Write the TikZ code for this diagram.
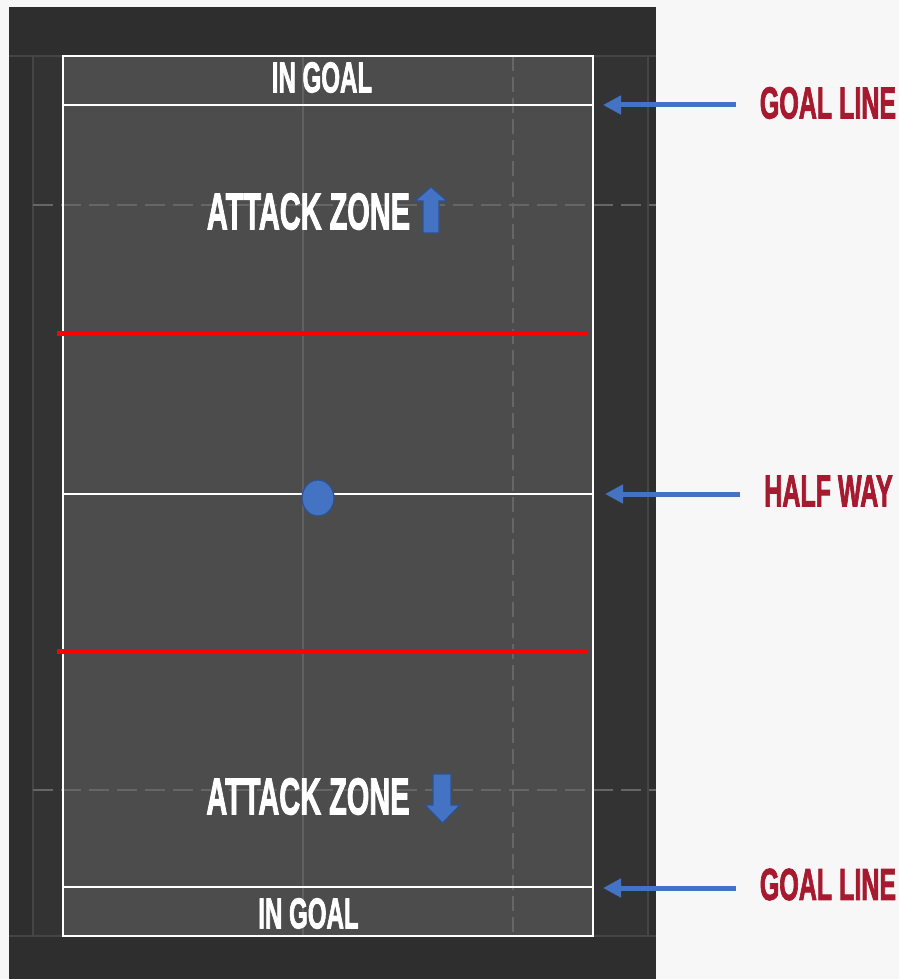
\documentclass[tikz,border=0pt]{standalone}
\usepackage{fontspec}
\usepackage{graphicx}
\usetikzlibrary{arrows.meta,positioning}
\newfontfamily\boardfont{Liberation Sans}[BoldFeatures={FakeBold=2.5}]
\definecolor{paper}{rgb}{0.97,0.97,0.97}
\definecolor{pitchdark}{rgb}{0.18,0.18,0.18}
\definecolor{pitchside}{rgb}{0.20,0.20,0.20}
\definecolor{pitchgrey}{rgb}{0.30,0.30,0.30}
\definecolor{faintline}{rgb}{0.27,0.27,0.27}
\definecolor{dashline}{rgb}{0.40,0.40,0.40}
\definecolor{myblue}{rgb}{0.27,0.45,0.77}
\definecolor{myblueedge}{rgb}{0.18,0.32,0.56}
\definecolor{crimson}{rgb}{0.65,0.10,0.18}
\newcommand{\cond}[1]{\scalebox{0.56}[1]{#1}}

\begin{document}
\begin{tikzpicture}[x=1pt,y=-1pt,>={Triangle[length=18pt,width=18pt]},
  zonelabel/.style={text=white,inner sep=0pt,font=\boardfont\bfseries},
  sidelabel/.style={text=crimson,inner xsep=24pt,inner ysep=0pt,font=\boardfont\bfseries\fontsize{44.7}{46}\selectfont},
  pointer/.style={->,myblue,line width=5pt},
  blockarrow/.style={fill=myblue,draw=myblueedge,line width=1.2pt,line join=miter}]
\useasboundingbox (0,0) rectangle (899,979);
\fill[paper] (0,0) rectangle (899,979);
% pitch surround
\fill[pitchdark] (9,7) rectangle (656,979);
\fill[pitchside] (33,56) rectangle (648,936);
\draw[faintline,line width=1.5pt] (9,56) -- (656,56);
\draw[faintline,line width=1.5pt] (9,936) -- (656,936);
\draw[faintline,line width=1.5pt] (33,56) -- (33,936);
\draw[faintline,line width=1.5pt] (648,56) -- (648,936);
% playing field
\fill[pitchgrey] (63,56) rectangle (593,936);
\draw[dashline!80!pitchgrey,line width=1.5pt] (303,56) -- (303,936);
\draw[dashline,line width=2.5pt,dash pattern=on 15pt off 6pt] (513,56) -- (513,936);
\draw[dashline,line width=2.5pt,dash pattern=on 20pt off 8pt] (33,205) -- (656,205);
\draw[dashline,line width=2.5pt,dash pattern=on 20pt off 8pt] (33,790) -- (656,790);
\draw[white,line width=2.2pt] (63,56) rectangle (593,936);
\draw[white,line width=2.2pt] (63,105) -- (593,105);
\draw[white,line width=2.2pt] (63,494) -- (593,494);
\draw[white,line width=2.2pt] (63,887) -- (593,887);
\draw[red,line width=5pt] (57,333) -- (587,333);
\draw[red,line width=5pt] (57,651) -- (587,651);
\filldraw[fill=myblue,draw=myblueedge,line width=1.2pt] (318,498) ellipse [x radius=16,y radius=18];
% field texts
\node[zonelabel,font=\boardfont\bfseries\fontsize{43}{45}\selectfont] (ingoaltop) at (322,77.5) {\cond{IN GOAL}};
\node[zonelabel,font=\boardfont\bfseries\fontsize{51.7}{53}\selectfont] (attackup) at (308.5,211.5) {\cond{ATTACK ZONE}};
\node[zonelabel,font=\boardfont\bfseries\fontsize{51.7}{53}\selectfont] (attackdown) at (308,796.5) {\cond{ATTACK ZONE}};
\node[zonelabel,font=\boardfont\bfseries\fontsize{43}{45}\selectfont] (ingoalbottom) at (308.5,913.5) {\cond{IN GOAL}};
\draw[blockarrow] (431,187) -- (447,201) -- (439,201) -- (439,233) -- (423,233) -- (423,201) -- (415,201) -- cycle;
\draw[blockarrow] (433,774) -- (451,774) -- (451,805) -- (460,805) -- (442.5,823) -- (425,805) -- (433,805) -- cycle;
% side labels
\node[sidelabel] (goaltop) at (828,103) {\cond{GOAL LINE}};
\node[sidelabel] (halfway) at (828.5,491) {\cond{HALF WAY}};
\node[sidelabel] (goalbottom) at (828,884.5) {\cond{GOAL LINE}};
\coordinate (tiptop) at (603,105);
\coordinate (tiphalf) at (605,494);
\coordinate (tipbottom) at (603,888);
\draw[pointer] (goaltop.west |- tiptop) -- (tiptop);
\draw[pointer] (halfway.west |- tiphalf) -- (tiphalf);
\draw[pointer] (goalbottom.west |- tipbottom) -- (tipbottom);
\end{tikzpicture}
\end{document}
